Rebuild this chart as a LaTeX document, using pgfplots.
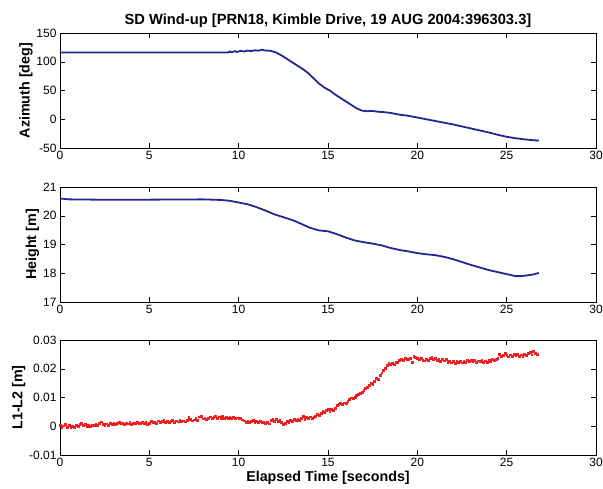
\documentclass[border=0pt]{standalone}
\usepackage{pgfplots}
\pgfplotsset{compat=1.18}
\usepackage{fontspec}
\setmainfont{Liberation Sans}
\definecolor{mblue}{RGB}{38,38,145}
\definecolor{mred}{RGB}{240,30,30}
\begin{document}
\begin{tikzpicture}
\pgfplotsset{
  every axis/.append style={
    scale only axis, width=536pt, height=115pt,
    xmin=0, xmax=30, xtick={0,5,...,30},
    tick align=inside, major tick length=5pt,
    xtick pos=both, ytick pos=both,
    tick style={black, line width=0.5pt},
    axis line style={line width=0.8pt},
    /pgf/number format/assume math mode=true,
    tick label style={font=\fontsize{12}{14}\selectfont},
    label style={font=\fontsize{14.3}{16}\selectfont\bfseries},
    ylabel shift=-3pt,
    anchor=south west,
  }
}
\begin{axis}[at={(60pt,-148pt)}, ymin=-50, ymax=150, ytick={-50,0,...,150},
  ylabel={Azimuth [deg]},
  title={SD Wind-up [PRN18, Kimble Drive, 19 AUG 2004:396303.3]},
  title style={font=\fontsize{14.7}{16}\selectfont\bfseries, yshift=-4pt}]
\addplot[mblue, line width=1.8pt] coordinates {
(0,116)(9.4,116)(9.5,118)(9.6,116.5)(9.8,118.5)(9.9,117)(10.1,119)(10.3,117.8)(10.5,119.5)(10.7,118.5)(10.9,120)(11.1,119.2)(11.3,121)(11.5,119.5)(11.8,119)(12.1,116)(12.4,111)(12.7,105)(13.0,99)(13.3,93)(13.6,87)(13.9,80)(14.2,71)(14.5,62)(14.8,55)(15.1,50)(15.4,43)(15.7,37)(16.0,31)(16.3,25)(16.6,19)(16.9,15)(17.2,14)(17.5,14.5)(17.8,13)(18.1,12.5)(18.5,11)(19.0,8)(19.5,6)(20,3)(20.5,0)(21,-3)(21.5,-6)(22,-9)(22.5,-12.5)(23,-16)(23.5,-19.5)(24,-23)(24.5,-27)(25,-30.5)(25.5,-33)(26,-35)(26.5,-36.5)(26.8,-37)
};
\end{axis}
\begin{axis}[at={(60pt,-302pt)}, ymin=17, ymax=21, ytick={17,18,...,21},
  ylabel={Height [m]}]
\addplot[mblue, line width=1.8pt] coordinates {
(0,20.6)(0.5,20.57)(2,20.56)(5,20.56)(8,20.57)(9,20.55)(9.5,20.52)(10,20.46)(10.5,20.4)(11,20.3)(11.5,20.18)(12,20.05)(12.5,19.95)(13,19.85)(13.5,19.72)(14,19.58)(14.5,19.49)(15,19.46)(15.5,19.36)(16,19.24)(16.5,19.14)(17,19.08)(17.5,19.03)(18,18.97)(18.5,18.88)(19,18.81)(19.5,18.76)(20,18.7)(20.5,18.66)(21,18.63)(21.5,18.57)(22,18.49)(22.5,18.39)(23,18.29)(23.5,18.2)(24,18.11)(24.5,18.04)(25,17.97)(25.5,17.9)(25.8,17.9)(26.2,17.93)(26.5,17.96)(26.8,18.01)
};
\end{axis}
\begin{axis}[at={(60pt,-455pt)}, ymin=-0.01, ymax=0.03, ytick={-0.01,0,0.01,0.02,0.03},
  scaled y ticks=false,
  yticklabel style={/pgf/number format/.cd, fixed, precision=2},
  ylabel={L1-L2 [m]}, xlabel={Elapsed Time [seconds]}, xlabel shift=-3pt]
\addplot[only marks, mark=square*, mark size=0.9pt, mred, mark options={draw=mred, fill=mred}] table {
0.0 0.0003
0.1 -0.0003
0.2 0.0002
0.3 0.0006
0.4 -0.0002
0.5 0.0003
0.6 -0.0004
0.7 0.0001
0.8 -0.0002
0.9 0.0004
1.0 0.0001
1.1 0.0008
1.2 0.0012
1.3 0.0003
1.4 0.0006
1.5 0.0001
1.6 0.0004
1.7 0.0000
1.8 0.0005
1.9 0.0003
2.0 0.0008
2.1 0.0004
2.2 0.0010
2.3 0.0016
2.4 0.0006
2.5 0.0003
2.6 0.0009
2.7 0.0005
2.8 0.0010
2.9 0.0007
3.0 0.0012
3.1 0.0008
3.2 0.0011
3.3 0.0015
3.4 0.0009
3.5 0.0012
3.6 0.0007
3.7 0.0011
3.8 0.0009
3.9 0.0013
4.0 0.0008
4.1 0.0012
4.2 0.0010
4.3 0.0014
4.4 0.0009
4.5 0.0011
4.6 0.0015
4.7 0.0010
4.8 0.0013
4.9 0.0008
5.0 0.0012
5.1 0.0018
5.2 0.0013
5.3 0.0016
5.4 0.0012
5.5 0.0019
5.6 0.0014
5.7 0.0017
5.8 0.0021
5.9 0.0015
6.0 0.0018
6.1 0.0013
6.2 0.0017
6.3 0.0020
6.4 0.0015
6.5 0.0019
6.6 0.0016
6.7 0.0021
6.8 0.0017
6.9 0.0019
7.0 0.0016
7.1 0.0022
7.2 0.0031
7.3 0.0025
7.4 0.0019
7.5 0.0023
7.6 0.0028
7.7 0.0022
7.8 0.0033
7.9 0.0035
8.0 0.0026
8.1 0.0030
8.2 0.0024
8.3 0.0029
8.4 0.0033
8.5 0.0027
8.6 0.0031
8.7 0.0036
8.8 0.0028
8.9 0.0033
9.0 0.0029
9.1 0.0034
9.2 0.0027
9.3 0.0031
9.4 0.0028
9.5 0.0033
9.6 0.0029
9.7 0.0031
9.8 0.0027
9.9 0.0030
10.0 0.0026
10.1 0.0029
10.2 0.0023
10.3 0.0019
10.4 0.0014
10.5 0.0018
10.6 0.0013
10.7 0.0017
10.8 0.0020
10.9 0.0015
11.0 0.0018
11.1 0.0014
11.2 0.0017
11.3 0.0013
11.4 0.0016
11.5 0.0011
11.6 0.0015
11.7 0.0009
11.8 0.0021
11.9 0.0026
12.0 0.0018
12.1 0.0024
12.2 0.0017
12.3 0.0022
12.4 0.0013
12.5 0.0006
12.6 0.0011
12.7 0.0018
12.8 0.0014
12.9 0.0021
13.0 0.0017
13.1 0.0024
13.2 0.0021
13.3 0.0026
13.4 0.0022
13.5 0.0028
13.6 0.0034
13.7 0.0025
13.8 0.0031
13.9 0.0027
14.0 0.0033
14.1 0.0029
14.2 0.0031
14.3 0.0036
14.4 0.0042
14.5 0.0039
14.6 0.0046
14.7 0.0051
14.8 0.0048
14.9 0.0055
15.0 0.0058
15.1 0.0053
15.2 0.0059
15.3 0.0056
15.4 0.0063
15.5 0.0072
15.6 0.0078
15.7 0.0080
15.8 0.0077
15.9 0.0082
16.0 0.0079
16.1 0.0086
16.2 0.0093
16.3 0.0099
16.4 0.0097
16.5 0.0101
16.6 0.0108
16.7 0.0111
16.8 0.0114
16.9 0.0119
17.0 0.0125
17.1 0.0131
17.2 0.0137
17.3 0.0144
17.4 0.0150
17.5 0.0146
17.6 0.0158
17.7 0.0167
17.8 0.0165
17.9 0.0178
18.0 0.0186
18.1 0.0195
18.2 0.0203
18.3 0.0212
18.4 0.0218
18.5 0.0215
18.6 0.0219
18.7 0.0217
18.8 0.0222
18.9 0.0224
19.0 0.0229
19.1 0.0233
19.2 0.0231
19.3 0.0236
19.4 0.0232
19.5 0.0234
19.6 0.0238
19.7 0.0223
19.8 0.0243
19.9 0.0240
20.0 0.0236
20.1 0.0232
20.2 0.0237
20.3 0.0231
20.4 0.0228
20.5 0.0234
20.6 0.0229
20.7 0.0236
20.8 0.0241
20.9 0.0233
21.0 0.0238
21.1 0.0230
21.2 0.0235
21.3 0.0226
21.4 0.0232
21.5 0.0228
21.6 0.0233
21.7 0.0224
21.8 0.0227
21.9 0.0221
22.0 0.0225
22.1 0.0219
22.2 0.0228
22.3 0.0223
22.4 0.0226
22.5 0.0221
22.6 0.0227
22.7 0.0224
22.8 0.0229
22.9 0.0225
23.0 0.0231
23.1 0.0226
23.2 0.0229
23.3 0.0223
23.4 0.0228
23.5 0.0225
23.6 0.0230
23.7 0.0222
23.8 0.0228
23.9 0.0224
24.0 0.0230
24.1 0.0226
24.2 0.0232
24.3 0.0229
24.4 0.0233
24.5 0.0237
24.6 0.0251
24.7 0.0243
24.8 0.0248
24.9 0.0255
25.0 0.0246
25.1 0.0242
25.2 0.0249
25.3 0.0244
25.4 0.0250
25.5 0.0246
25.6 0.0252
25.7 0.0245
25.8 0.0249
25.9 0.0244
26.0 0.0251
26.1 0.0247
26.2 0.0253
26.3 0.0258
26.4 0.0249
26.5 0.0262
26.6 0.0254
26.7 0.0250
};
\end{axis}
\pgfresetboundingbox
\path (0pt,0pt) rectangle (603pt,-488pt);
\end{tikzpicture}
\end{document}
